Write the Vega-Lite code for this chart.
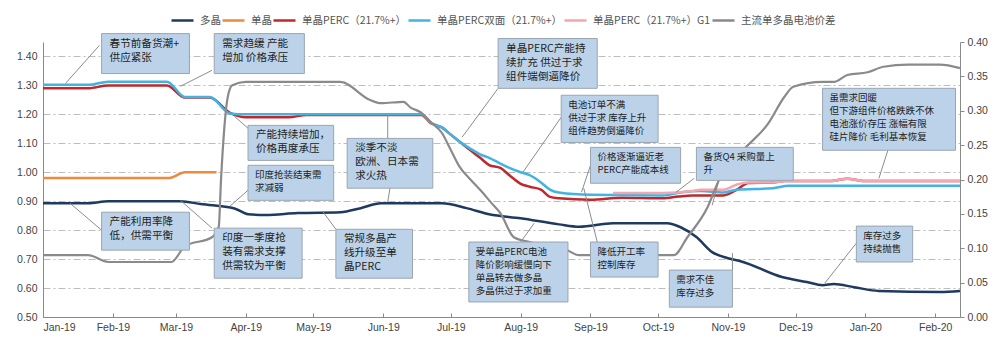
{
  "$schema": "https://vega.github.io/schema/vega-lite/v6.json",
  "width": 917,
  "height": 275,
  "autosize": {"type": "none"},
  "padding": {"left": 43, "top": 42, "right": 40, "bottom": 35},
  "background": "white",
  "config": {"view": {"stroke": null}, "font": "Noto Sans CJK SC"},
  "datasets": {
    "prices": [
      {"series": "多晶", "date": "2019-01-01", "value": 0.893},
      {"series": "多晶", "date": "2019-01-21", "value": 0.893},
      {"series": "多晶", "date": "2019-01-30", "value": 0.900},
      {"series": "多晶", "date": "2019-03-03", "value": 0.900},
      {"series": "多晶", "date": "2019-03-12", "value": 0.890},
      {"series": "多晶", "date": "2019-03-27", "value": 0.875},
      {"series": "多晶", "date": "2019-04-02", "value": 0.855},
      {"series": "多晶", "date": "2019-04-10", "value": 0.852},
      {"series": "多晶", "date": "2019-04-24", "value": 0.859},
      {"series": "多晶", "date": "2019-05-13", "value": 0.862},
      {"series": "多晶", "date": "2019-05-22", "value": 0.876},
      {"series": "多晶", "date": "2019-05-31", "value": 0.893},
      {"series": "多晶", "date": "2019-06-27", "value": 0.893},
      {"series": "多晶", "date": "2019-07-08", "value": 0.876},
      {"series": "多晶", "date": "2019-07-18", "value": 0.855},
      {"series": "多晶", "date": "2019-08-01", "value": 0.841},
      {"series": "多晶", "date": "2019-08-18", "value": 0.820},
      {"series": "多晶", "date": "2019-08-27", "value": 0.812},
      {"series": "多晶", "date": "2019-09-11", "value": 0.824},
      {"series": "多晶", "date": "2019-10-05", "value": 0.824},
      {"series": "多晶", "date": "2019-10-11", "value": 0.810},
      {"series": "多晶", "date": "2019-10-18", "value": 0.776},
      {"series": "多晶", "date": "2019-10-25", "value": 0.724},
      {"series": "多晶", "date": "2019-11-01", "value": 0.703},
      {"series": "多晶", "date": "2019-11-07", "value": 0.692},
      {"series": "多晶", "date": "2019-11-25", "value": 0.638},
      {"series": "多晶", "date": "2019-12-06", "value": 0.621},
      {"series": "多晶", "date": "2019-12-13", "value": 0.610},
      {"series": "多晶", "date": "2019-12-18", "value": 0.614},
      {"series": "多晶", "date": "2019-12-27", "value": 0.603},
      {"series": "多晶", "date": "2020-01-07", "value": 0.590},
      {"series": "多晶", "date": "2020-02-03", "value": 0.586},
      {"series": "多晶", "date": "2020-02-12", "value": 0.590},
      {"series": "单晶", "date": "2019-01-01", "value": 0.980},
      {"series": "单晶", "date": "2019-02-26", "value": 0.980},
      {"series": "单晶", "date": "2019-03-05", "value": 1.000},
      {"series": "单晶", "date": "2019-03-19", "value": 1.000},
      {"series": "单晶PERC（21.7%+）", "date": "2019-01-01", "value": 1.290},
      {"series": "单晶PERC（21.7%+）", "date": "2019-01-21", "value": 1.290},
      {"series": "单晶PERC（21.7%+）", "date": "2019-01-30", "value": 1.300},
      {"series": "单晶PERC（21.7%+）", "date": "2019-02-25", "value": 1.300},
      {"series": "单晶PERC（21.7%+）", "date": "2019-03-05", "value": 1.258},
      {"series": "单晶PERC（21.7%+）", "date": "2019-03-16", "value": 1.258},
      {"series": "单晶PERC（21.7%+）", "date": "2019-03-25", "value": 1.205},
      {"series": "单晶PERC（21.7%+）", "date": "2019-04-01", "value": 1.190},
      {"series": "单晶PERC（21.7%+）", "date": "2019-04-20", "value": 1.190},
      {"series": "单晶PERC（21.7%+）", "date": "2019-04-28", "value": 1.198},
      {"series": "单晶PERC（21.7%+）", "date": "2019-06-18", "value": 1.198},
      {"series": "单晶PERC（21.7%+）", "date": "2019-06-22", "value": 1.170},
      {"series": "单晶PERC（21.7%+）", "date": "2019-06-27", "value": 1.155},
      {"series": "单晶PERC（21.7%+）", "date": "2019-07-01", "value": 1.130},
      {"series": "单晶PERC（21.7%+）", "date": "2019-07-05", "value": 1.105},
      {"series": "单晶PERC（21.7%+）", "date": "2019-07-09", "value": 1.080},
      {"series": "单晶PERC（21.7%+）", "date": "2019-07-14", "value": 1.050},
      {"series": "单晶PERC（21.7%+）", "date": "2019-07-18", "value": 1.025},
      {"series": "单晶PERC（21.7%+）", "date": "2019-07-23", "value": 1.015},
      {"series": "单晶PERC（21.7%+）", "date": "2019-07-27", "value": 0.990},
      {"series": "单晶PERC（21.7%+）", "date": "2019-08-01", "value": 0.960},
      {"series": "单晶PERC（21.7%+）", "date": "2019-08-05", "value": 0.950},
      {"series": "单晶PERC（21.7%+）", "date": "2019-08-10", "value": 0.940},
      {"series": "单晶PERC（21.7%+）", "date": "2019-08-14", "value": 0.915},
      {"series": "单晶PERC（21.7%+）", "date": "2019-08-18", "value": 0.910},
      {"series": "单晶PERC（21.7%+）", "date": "2019-09-01", "value": 0.905},
      {"series": "单晶PERC（21.7%+）", "date": "2019-09-15", "value": 0.912},
      {"series": "单晶PERC（21.7%+）", "date": "2019-10-03", "value": 0.910},
      {"series": "单晶PERC（21.7%+）", "date": "2019-10-10", "value": 0.916},
      {"series": "单晶PERC（21.7%+）", "date": "2019-10-16", "value": 0.920},
      {"series": "单晶PERC（21.7%+）", "date": "2019-10-30", "value": 0.920},
      {"series": "单晶PERC（21.7%+）", "date": "2019-11-05", "value": 0.940},
      {"series": "单晶PERC（21.7%+）", "date": "2019-11-10", "value": 0.963},
      {"series": "单晶PERC（21.7%+）", "date": "2019-11-21", "value": 0.965},
      {"series": "单晶PERC（21.7%+）", "date": "2019-11-26", "value": 0.970},
      {"series": "单晶PERC（21.7%+）", "date": "2019-12-17", "value": 0.970},
      {"series": "单晶PERC（21.7%+）", "date": "2019-12-24", "value": 0.978},
      {"series": "单晶PERC（21.7%+）", "date": "2019-12-31", "value": 0.970},
      {"series": "单晶PERC（21.7%+）", "date": "2020-02-12", "value": 0.970},
      {"series": "单晶PERC双面（21.7%+）", "date": "2019-01-01", "value": 1.302},
      {"series": "单晶PERC双面（21.7%+）", "date": "2019-01-21", "value": 1.302},
      {"series": "单晶PERC双面（21.7%+）", "date": "2019-01-30", "value": 1.313},
      {"series": "单晶PERC双面（21.7%+）", "date": "2019-02-25", "value": 1.313},
      {"series": "单晶PERC双面（21.7%+）", "date": "2019-03-05", "value": 1.260},
      {"series": "单晶PERC双面（21.7%+）", "date": "2019-03-16", "value": 1.260},
      {"series": "单晶PERC双面（21.7%+）", "date": "2019-03-25", "value": 1.203},
      {"series": "单晶PERC双面（21.7%+）", "date": "2019-04-01", "value": 1.200},
      {"series": "单晶PERC双面（21.7%+）", "date": "2019-06-18", "value": 1.200},
      {"series": "单晶PERC双面（21.7%+）", "date": "2019-06-22", "value": 1.172},
      {"series": "单晶PERC双面（21.7%+）", "date": "2019-06-27", "value": 1.155},
      {"series": "单晶PERC双面（21.7%+）", "date": "2019-07-01", "value": 1.130},
      {"series": "单晶PERC双面（21.7%+）", "date": "2019-07-05", "value": 1.105},
      {"series": "单晶PERC双面（21.7%+）", "date": "2019-07-10", "value": 1.080},
      {"series": "单晶PERC双面（21.7%+）", "date": "2019-07-14", "value": 1.062},
      {"series": "单晶PERC双面（21.7%+）", "date": "2019-07-18", "value": 1.050},
      {"series": "单晶PERC双面（21.7%+）", "date": "2019-07-23", "value": 1.030},
      {"series": "单晶PERC双面（21.7%+）", "date": "2019-07-27", "value": 1.015},
      {"series": "单晶PERC双面（21.7%+）", "date": "2019-08-01", "value": 1.000},
      {"series": "单晶PERC双面（21.7%+）", "date": "2019-08-05", "value": 0.990},
      {"series": "单晶PERC双面（21.7%+）", "date": "2019-08-10", "value": 0.965},
      {"series": "单晶PERC双面（21.7%+）", "date": "2019-08-14", "value": 0.940},
      {"series": "单晶PERC双面（21.7%+）", "date": "2019-08-18", "value": 0.930},
      {"series": "单晶PERC双面（21.7%+）", "date": "2019-09-01", "value": 0.922},
      {"series": "单晶PERC双面（21.7%+）", "date": "2019-10-03", "value": 0.920},
      {"series": "单晶PERC双面（21.7%+）", "date": "2019-10-11", "value": 0.930},
      {"series": "单晶PERC双面（21.7%+）", "date": "2019-10-20", "value": 0.935},
      {"series": "单晶PERC双面（21.7%+）", "date": "2019-10-30", "value": 0.930},
      {"series": "单晶PERC双面（21.7%+）", "date": "2019-11-05", "value": 0.940},
      {"series": "单晶PERC双面（21.7%+）", "date": "2019-11-21", "value": 0.945},
      {"series": "单晶PERC双面（21.7%+）", "date": "2019-11-28", "value": 0.953},
      {"series": "单晶PERC双面（21.7%+）", "date": "2020-02-12", "value": 0.953},
      {"series": "单晶PERC（21.7%+）G1", "date": "2019-09-11", "value": 0.928},
      {"series": "单晶PERC（21.7%+）G1", "date": "2019-10-03", "value": 0.928},
      {"series": "单晶PERC（21.7%+）G1", "date": "2019-10-16", "value": 0.935},
      {"series": "单晶PERC（21.7%+）G1", "date": "2019-10-20", "value": 0.940},
      {"series": "单晶PERC（21.7%+）G1", "date": "2019-10-30", "value": 0.940},
      {"series": "单晶PERC（21.7%+）G1", "date": "2019-11-05", "value": 0.958},
      {"series": "单晶PERC（21.7%+）G1", "date": "2019-11-10", "value": 0.965},
      {"series": "单晶PERC（21.7%+）G1", "date": "2019-11-21", "value": 0.965},
      {"series": "单晶PERC（21.7%+）G1", "date": "2019-11-26", "value": 0.970},
      {"series": "单晶PERC（21.7%+）G1", "date": "2019-12-17", "value": 0.970},
      {"series": "单晶PERC（21.7%+）G1", "date": "2019-12-24", "value": 0.978},
      {"series": "单晶PERC（21.7%+）G1", "date": "2019-12-31", "value": 0.970},
      {"series": "单晶PERC（21.7%+）G1", "date": "2020-02-12", "value": 0.970}
    ],
    "spread": [
      {"series": "主流单多晶电池价差", "date": "2019-01-01", "value": 0.090},
      {"series": "主流单多晶电池价差", "date": "2019-01-21", "value": 0.090},
      {"series": "主流单多晶电池价差", "date": "2019-01-30", "value": 0.080},
      {"series": "主流单多晶电池价差", "date": "2019-02-27", "value": 0.080},
      {"series": "主流单多晶电池价差", "date": "2019-03-05", "value": 0.103},
      {"series": "主流单多晶电池价差", "date": "2019-03-17", "value": 0.116},
      {"series": "主流单多晶电池价差", "date": "2019-03-20", "value": 0.131},
      {"series": "主流单多晶电池价差", "date": "2019-03-21", "value": 0.199},
      {"series": "主流单多晶电池价差", "date": "2019-03-24", "value": 0.320},
      {"series": "主流单多晶电池价差", "date": "2019-03-26", "value": 0.337},
      {"series": "主流单多晶电池价差", "date": "2019-04-01", "value": 0.342},
      {"series": "主流单多晶电池价差", "date": "2019-05-13", "value": 0.342},
      {"series": "主流单多晶电池价差", "date": "2019-05-26", "value": 0.316},
      {"series": "主流单多晶电池价差", "date": "2019-05-31", "value": 0.311},
      {"series": "主流单多晶电池价差", "date": "2019-06-10", "value": 0.313},
      {"series": "主流单多晶电池价差", "date": "2019-06-13", "value": 0.305},
      {"series": "主流单多晶电池价差", "date": "2019-06-18", "value": 0.297},
      {"series": "主流单多晶电池价差", "date": "2019-06-22", "value": 0.284},
      {"series": "主流单多晶电池价差", "date": "2019-06-27", "value": 0.268},
      {"series": "主流单多晶电池价差", "date": "2019-07-01", "value": 0.243},
      {"series": "主流单多晶电池价差", "date": "2019-07-05", "value": 0.218},
      {"series": "主流单多晶电池价差", "date": "2019-07-10", "value": 0.199},
      {"series": "主流单多晶电池价差", "date": "2019-07-14", "value": 0.185},
      {"series": "主流单多晶电池价差", "date": "2019-07-19", "value": 0.166},
      {"series": "主流单多晶电池价差", "date": "2019-07-23", "value": 0.151},
      {"series": "主流单多晶电池价差", "date": "2019-07-29", "value": 0.116},
      {"series": "主流单多晶电池价差", "date": "2019-08-05", "value": 0.109},
      {"series": "主流单多晶电池价差", "date": "2019-08-20", "value": 0.100},
      {"series": "主流单多晶电池价差", "date": "2019-08-27", "value": 0.090},
      {"series": "主流单多晶电池价差", "date": "2019-10-08", "value": 0.090},
      {"series": "主流单多晶电池价差", "date": "2019-10-14", "value": 0.116},
      {"series": "主流单多晶电池价差", "date": "2019-10-23", "value": 0.160},
      {"series": "主流单多晶电池价差", "date": "2019-10-28", "value": 0.199},
      {"series": "主流单多晶电池价差", "date": "2019-11-07", "value": 0.240},
      {"series": "主流单多晶电池价差", "date": "2019-11-19", "value": 0.282},
      {"series": "主流单多晶电池价差", "date": "2019-11-26", "value": 0.320},
      {"series": "主流单多晶电池价差", "date": "2019-11-30", "value": 0.335},
      {"series": "主流单多晶电池价差", "date": "2019-12-13", "value": 0.342},
      {"series": "主流单多晶电池价差", "date": "2019-12-18", "value": 0.342},
      {"series": "主流单多晶电池价差", "date": "2019-12-24", "value": 0.352},
      {"series": "主流单多晶电池价差", "date": "2020-01-02", "value": 0.356},
      {"series": "主流单多晶电池价差", "date": "2020-01-09", "value": 0.364},
      {"series": "主流单多晶电池价差", "date": "2020-01-20", "value": 0.367},
      {"series": "主流单多晶电池价差", "date": "2020-02-03", "value": 0.367},
      {"series": "主流单多晶电池价差", "date": "2020-02-12", "value": 0.362}
    ],
    "leaders": [
      {"x1": "2019-01-26", "y1": 1.438, "x2": "2019-01-11", "y2": 1.307},
      {"x1": "2019-03-17", "y1": 1.352, "x2": "2019-03-03", "y2": 1.297},
      {"x1": "2019-04-02", "y1": 1.152, "x2": "2019-03-27", "y2": 1.193},
      {"x1": "2019-04-02", "y1": 0.938, "x2": "2019-03-25", "y2": 0.883},
      {"x1": "2019-03-17", "y1": 0.807, "x2": "2019-03-03", "y2": 0.903},
      {"x1": "2019-01-27", "y1": 0.800, "x2": "2019-01-13", "y2": 0.893},
      {"x1": "2019-06-03", "y1": 1.197, "x2": "2019-06-03", "y2": 1.117},
      {"x1": "2019-06-04", "y1": 0.945, "x2": "2019-06-03", "y2": 0.897},
      {"x1": "2019-05-11", "y1": 0.803, "x2": "2019-05-05", "y2": 0.866},
      {"x1": "2019-07-22", "y1": 1.290, "x2": "2019-07-06", "y2": 1.121},
      {"x1": "2019-08-19", "y1": 1.190, "x2": "2019-08-02", "y2": 1.000},
      {"x1": "2019-09-01", "y1": 1.024, "x2": "2019-08-28", "y2": 0.931},
      {"x1": "2019-09-04", "y1": 0.759, "x2": "2019-08-29", "y2": 0.945},
      {"x1": "2019-10-17", "y1": 0.979, "x2": "2019-10-09", "y2": 0.931},
      {"x1": "2019-10-28", "y1": 0.972, "x2": "2019-10-25", "y2": 0.886},
      {"x1": "2019-11-03", "y1": 0.662, "x2": "2019-11-03", "y2": 0.721},
      {"x1": "2019-08-01", "y1": 0.759, "x2": "2019-08-07", "y2": 0.824},
      {"x1": "2020-01-11", "y1": 1.076, "x2": "2020-01-07", "y2": 0.979},
      {"x1": "2019-12-28", "y1": 0.755, "x2": "2019-12-14", "y2": 0.617}
    ],
    "notes_a": [
      {"x1": "2019-01-27", "x2": "2019-03-07", "top": 1.479, "bottom": 1.341, "text": "春节前备货潮+\n供应紧张"},
      {"x1": "2019-03-18", "x2": "2019-04-27", "top": 1.479, "bottom": 1.341, "text": "需求趋缓 产能\n增加 价格承压"},
      {"x1": "2019-04-02", "x2": "2019-05-10", "top": 1.162, "bottom": 1.041, "text": "产能持续增加，\n价格再度承压"},
      {"x1": "2019-03-18", "x2": "2019-04-26", "top": 0.807, "bottom": 0.634, "text": "印度一季度抢\n装有需求支撑\n供需较为平衡"},
      {"x1": "2019-01-27", "x2": "2019-03-07", "top": 0.862, "bottom": 0.731, "text": "产能利用率降\n低，供需平衡"},
      {"x1": "2019-05-16", "x2": "2019-06-23", "top": 1.117, "bottom": 0.945, "text": "淡季不淡\n欧洲、日本需\n求火热"},
      {"x1": "2019-05-11", "x2": "2019-06-14", "top": 0.803, "bottom": 0.634, "text": "常规多晶产\n线升级至单\n晶PERC"},
      {"x1": "2019-07-22", "x2": "2019-09-04", "top": 1.462, "bottom": 1.290, "text": "单晶PERC产能持\n续扩充  供过于求\n组件端倒逼降价"}
    ],
    "notes_b": [
      {"x1": "2019-04-02", "x2": "2019-05-10", "top": 1.024, "bottom": 0.903, "text": "印度抢装结束需\n求减弱"},
      {"x1": "2019-08-19", "x2": "2019-10-01", "top": 1.266, "bottom": 1.103, "text": "电池订单不满\n供过于求 库存上升\n组件趋势倒逼降价"},
      {"x1": "2019-09-01", "x2": "2019-10-11", "top": 1.086, "bottom": 0.962, "text": "价格逐渐逼近老\nPERC产能成本线"},
      {"x1": "2019-09-01", "x2": "2019-10-01", "top": 0.759, "bottom": 0.638, "text": "降低开工率\n控制库存"},
      {"x1": "2019-10-18", "x2": "2019-11-30", "top": 1.086, "bottom": 0.972, "text": "备货Q4 采购量上\n升"},
      {"x1": "2019-10-06", "x2": "2019-11-03", "top": 0.662, "bottom": 0.534, "text": "需求不佳\n库存过多"},
      {"x1": "2019-07-09", "x2": "2019-08-22", "top": 0.759, "bottom": 0.552, "text": "受单晶PERC电池\n降价影响缓慢向下\n单晶转去做多晶\n多晶供过于求加重"},
      {"x1": "2019-12-13", "x2": "2020-02-10", "top": 1.290, "bottom": 1.076, "text": "虽需求回暖\n但下游组件价格跌跌不休\n电池涨价存压  涨幅有限\n硅片降价  毛利基本恢复"},
      {"x1": "2019-12-28", "x2": "2020-01-22", "top": 0.814, "bottom": 0.690, "text": "库存过多\n持续抛售"}
    ]
  },
  "layer": [
    {
      "data": {"name": "prices"},
      "mark": {"type": "line", "interpolate": "monotone", "strokeWidth": 2.5},
      "encoding": {
        "x": {
          "field": "date", "type": "temporal", "title": null,
          "scale": {"type": "utc", "domain": [{"year": 2019, "month": 1, "date": 1, "utc": true}, {"year": 2020, "month": 2, "date": 12, "utc": true}]},
          "axis": {
            "labelExpr": "utcFormat(datum.value, '%b-%y')", "grid": false,
            "values": [
              {"year": 2019, "month": 1, "date": 1, "utc": true},
              {"year": 2019, "month": 2, "date": 1, "utc": true},
              {"year": 2019, "month": 3, "date": 1, "utc": true},
              {"year": 2019, "month": 4, "date": 1, "utc": true},
              {"year": 2019, "month": 5, "date": 1, "utc": true},
              {"year": 2019, "month": 6, "date": 1, "utc": true},
              {"year": 2019, "month": 7, "date": 1, "utc": true},
              {"year": 2019, "month": 8, "date": 1, "utc": true},
              {"year": 2019, "month": 9, "date": 1, "utc": true},
              {"year": 2019, "month": 10, "date": 1, "utc": true},
              {"year": 2019, "month": 11, "date": 1, "utc": true},
              {"year": 2019, "month": 12, "date": 1, "utc": true},
              {"year": 2020, "month": 1, "date": 1, "utc": true},
              {"year": 2020, "month": 2, "date": 1, "utc": true}
            ],
            "labelOverlap": false, "labelFont": "Liberation Sans", "labelFontSize": 10.5, "labelColor": "#444",
            "domainColor": "#8a8a8a", "tickColor": "#8a8a8a", "tickSize": -4, "labelPadding": 9, "labelAngle": 0
          }
        },
        "y": {
          "field": "value", "type": "quantitative",
          "scale": {"domain": [0.5, 1.45], "nice": false, "zero": false},
          "axis": {
            "title": null, "orient": "left", "values": [0.5, 0.6, 0.7, 0.8, 0.9, 1.0, 1.1, 1.2, 1.3, 1.4],
            "format": ".2f", "ticks": false, "tickSize": 0, "labelPadding": 6,
            "labelFont": "Liberation Sans", "labelFontSize": 10.5, "labelColor": "#444",
            "domainColor": "#8a8a8a", "grid": true, "gridColor": "#bdbdbd", "gridDash": [7, 3, 2, 3], "gridWidth": 1
          }
        },
        "color": {
          "field": "series", "type": "nominal",
          "scale": {
            "domain": ["多晶", "单晶", "单晶PERC（21.7%+）", "单晶PERC双面（21.7%+）", "单晶PERC（21.7%+）G1", "主流单多晶电池价差"],
            "range": ["#1f3a5f", "#ee8a3e", "#c0282d", "#41b4e2", "#f3a6b0", "#8a8a8a"]
          },
          "legend": {
            "title": null, "orient": "none", "direction": "horizontal", "legendX": 127, "legendY": -34,
            "symbolType": "stroke", "symbolStrokeWidth": 2.5, "symbolSize": 484,
            "labelFont": "Noto Sans CJK SC", "labelFontSize": 10.5, "labelColor": "#555",
            "labelOffset": 5, "columnPadding": -4
          }
        }
      }
    },
    {
      "data": {"name": "spread"},
      "mark": {"type": "line", "interpolate": "monotone", "strokeWidth": 2.2},
      "encoding": {
        "x": {"field": "date", "type": "temporal", "title": null},
        "y": {
          "field": "value", "type": "quantitative",
          "scale": {"domain": [0, 0.4], "nice": false, "zero": false},
          "axis": {
            "title": null, "orient": "right", "values": [0, 0.05, 0.1, 0.15, 0.2, 0.25, 0.3, 0.35, 0.4],
            "format": ".2f", "grid": false, "tickSize": 4, "tickColor": "#8a8a8a", "labelPadding": 3,
            "labelFont": "Liberation Sans", "labelFontSize": 10.5, "labelColor": "#444", "domainColor": "#8a8a8a"
          }
        },
        "color": {
          "field": "series", "type": "nominal",
          "scale": {
            "domain": ["多晶", "单晶", "单晶PERC（21.7%+）", "单晶PERC双面（21.7%+）", "单晶PERC（21.7%+）G1", "主流单多晶电池价差"],
            "range": ["#1f3a5f", "#ee8a3e", "#c0282d", "#41b4e2", "#f3a6b0", "#8a8a8a"]
          },
          "legend": {
            "title": null, "orient": "none", "direction": "horizontal", "legendX": 127, "legendY": -34,
            "symbolType": "stroke", "symbolStrokeWidth": 2.5, "symbolSize": 484,
            "labelFont": "Noto Sans CJK SC", "labelFontSize": 10.5, "labelColor": "#555",
            "labelOffset": 5, "columnPadding": -4
          }
        }
      }
    },
    {
      "layer": [
        {
          "data": {"name": "leaders"},
          "mark": {"type": "rule", "stroke": "#8c8c8c", "strokeWidth": 1},
          "encoding": {
            "x": {"field": "x1", "type": "temporal", "title": null},
            "x2": {"field": "x2"},
            "y": {"field": "y1", "type": "quantitative", "scale": {"domain": [0.5, 1.45], "nice": false, "zero": false}, "axis": null},
            "y2": {"field": "y2"}
          }
        },
        {
          "data": {"name": "notes_a"},
          "mark": {"type": "rect", "fill": "#bcd2e8", "stroke": "#9aa5b1", "strokeWidth": 1},
          "encoding": {
            "x": {"field": "x1", "type": "temporal", "title": null},
            "x2": {"field": "x2"},
            "y": {"field": "top", "type": "quantitative", "scale": {"domain": [0.5, 1.45], "nice": false, "zero": false}, "axis": null},
            "y2": {"field": "bottom"}
          }
        },
        {
          "data": {"name": "notes_b"},
          "mark": {"type": "rect", "fill": "#bcd2e8", "stroke": "#9aa5b1", "strokeWidth": 1},
          "encoding": {
            "x": {"field": "x1", "type": "temporal", "title": null},
            "x2": {"field": "x2"},
            "y": {"field": "top", "type": "quantitative", "scale": {"domain": [0.5, 1.45], "nice": false, "zero": false}, "axis": null},
            "y2": {"field": "bottom"}
          }
        },
        {
          "data": {"name": "notes_a"},
          "mark": {"type": "text", "align": "left", "baseline": "top", "dx": 8, "dy": 5, "fontSize": 10.6, "lineHeight": 14, "lineBreak": "\n", "color": "#222", "font": "Noto Sans CJK SC"},
          "encoding": {
            "x": {"field": "x1", "type": "temporal", "title": null},
            "y": {"field": "top", "type": "quantitative", "scale": {"domain": [0.5, 1.45], "nice": false, "zero": false}, "axis": null},
            "text": {"field": "text"}
          }
        },
        {
          "data": {"name": "notes_b"},
          "mark": {"type": "text", "align": "left", "baseline": "top", "dx": 7, "dy": 5, "fontSize": 9.5, "lineHeight": 13, "lineBreak": "\n", "color": "#222", "font": "Noto Sans CJK SC"},
          "encoding": {
            "x": {"field": "x1", "type": "temporal", "title": null},
            "y": {"field": "top", "type": "quantitative", "scale": {"domain": [0.5, 1.45], "nice": false, "zero": false}, "axis": null},
            "text": {"field": "text"}
          }
        }
      ]
    }
  ],
  "resolve": {"scale": {"y": "independent"}}
}
